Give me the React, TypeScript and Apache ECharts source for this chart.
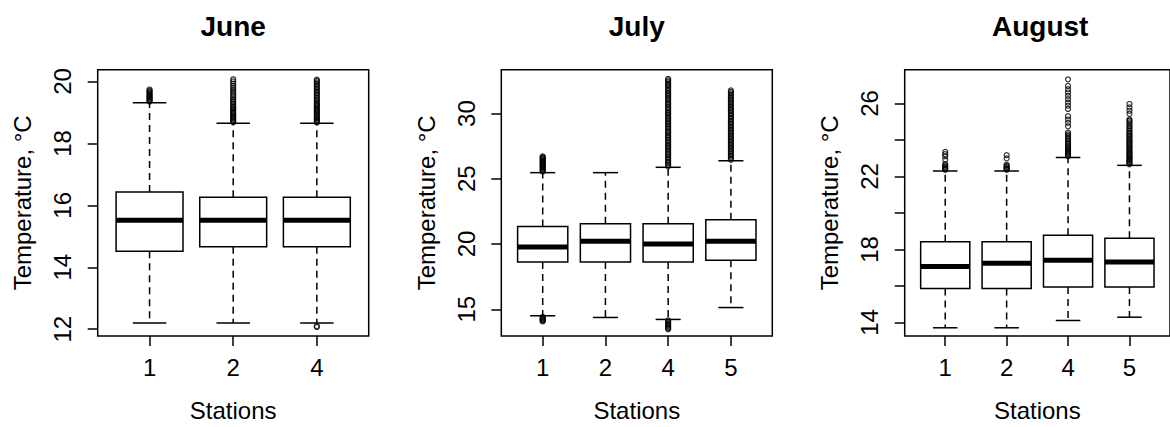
import React, { useEffect, useRef } from "react";
import * as echarts from "echarts";

// ---- data ----
const months = ["June", "July", "August"];

const juneStations = ["1", "2", "4"];
const julyStations = ["1", "2", "4", "5"];
const augustStations = ["1", "2", "4", "5"];

// box statistics per station: [lower whisker, Q1, median, Q3, upper whisker]
const juneBoxes = [
  [12.2, 14.52, 15.52, 16.43, 19.31],
  [12.2, 14.66, 15.52, 16.26, 18.65],
  [12.2, 14.66, 15.52, 16.26, 18.65],
];
const julyBoxes = [
  [14.5, 18.62, 19.78, 21.35, 25.47],
  [14.37, 18.62, 20.21, 21.55, 25.47],
  [14.22, 18.62, 20.0, 21.55, 25.88],
  [15.13, 18.75, 20.21, 21.86, 26.38],
];
const augustBoxes = [
  [13.71, 15.86, 17.07, 18.42, 22.3],
  [13.71, 15.86, 17.25, 18.42, 22.3],
  [14.11, 15.95, 17.41, 18.78, 23.04],
  [14.29, 15.95, 17.32, 18.62, 22.61],
];

// outlying observations per station
const juneOutliers = [
  [19.35, 19.38, 19.41, 19.44, 19.47, 19.5, 19.53, 19.56, 19.6, 19.63, 19.67, 19.7, 19.74],
  [18.68, 18.72, 18.75, 18.79, 18.83, 18.86, 18.9, 18.94, 18.98, 19.02, 19.06, 19.1, 19.14,
    19.18, 19.23, 19.28, 19.33, 19.38, 19.43, 19.49, 19.55, 19.61, 19.67, 19.73, 19.79, 19.86,
    19.93, 20.0, 20.07],
  [12.07, 12.1, 18.67, 18.7, 18.74, 18.77, 18.81, 18.84, 18.88, 18.92, 18.96, 19.0, 19.04,
    19.08, 19.12, 19.16, 19.2, 19.24, 19.28, 19.32, 19.37, 19.42, 19.47, 19.52, 19.57, 19.62,
    19.67, 19.72, 19.77, 19.82, 19.87, 19.92, 19.97, 20.02, 20.06],
];
const julyOutliers = [
  [14.07, 14.12, 14.18, 14.24, 14.3, 14.36, 14.42, 25.55, 25.62, 25.69, 25.76, 25.83, 25.9,
    25.97, 26.04, 26.11, 26.18, 26.25, 26.32, 26.39, 26.46, 26.53, 26.6, 26.66, 26.71],
  [],
  [13.47, 13.54, 13.62, 13.71, 13.8, 13.88, 13.97, 14.06, 14.15, 25.95, 26.06, 26.19, 26.3,
    26.42, 26.55, 26.66, 26.8, 26.91, 27.03, 27.16, 27.27, 27.4, 27.51, 27.63, 27.76, 27.87,
    27.99, 28.12, 28.23, 28.35, 28.48, 28.59, 28.7, 28.84, 28.95, 29.07, 29.2, 29.31, 29.43,
    29.56, 29.67, 29.79, 29.92, 30.03, 30.14, 30.27, 30.39, 30.51, 30.64, 30.75, 30.86, 30.99,
    31.11, 31.22, 31.36, 31.47, 31.58, 31.71, 31.83, 31.95, 32.08, 32.19, 32.3, 32.44, 32.55,
    32.66],
  [26.45, 26.56, 26.68, 26.79, 26.9, 27.03, 27.14, 27.26, 27.37, 27.49, 27.61, 27.72, 27.84,
    27.95, 28.07, 28.19, 28.3, 28.42, 28.53, 28.65, 28.77, 28.88, 29.0, 29.11, 29.23, 29.35,
    29.46, 29.58, 29.69, 29.81, 29.93, 30.04, 30.16, 30.27, 30.39, 30.51, 30.62, 30.74, 30.85,
    30.97, 31.09, 31.2, 31.32, 31.43, 31.55, 31.66, 31.77],
];
const augustOutliers = [
  [22.36, 22.42, 22.47, 22.53, 22.6, 22.68, 22.91, 23.1, 23.22, 23.35],
  [22.36, 22.41, 22.46, 22.52, 22.58, 22.65, 22.99, 23.17],
  [23.1, 23.16, 23.22, 23.28, 23.35, 23.41, 23.48, 23.55, 23.62, 23.7, 23.78, 23.86, 23.95,
    24.04, 24.13, 24.22, 24.31, 24.4, 24.75, 24.94, 25.12, 25.3, 25.7, 25.88, 26.05, 26.24,
    26.42, 26.6, 26.78, 26.96, 27.32],
  [22.67, 22.73, 22.79, 22.85, 22.91, 22.97, 23.04, 23.1, 23.16, 23.23, 23.3, 23.36, 23.43,
    23.5, 23.57, 23.64, 23.71, 23.78, 23.86, 23.93, 24.0, 24.08, 24.16, 24.24, 24.32, 24.4,
    24.49, 24.58, 24.67, 24.76, 24.86, 24.96, 25.05, 25.12, 25.43, 25.6, 25.78, 25.97],
];

// y-axis extents, ticks and labelled values
const juneRange = [11.78, 20.38];
const julyRange = [12.95, 33.36];
const augustRange = [13.26, 27.85];
const juneTicks = [12, 14, 16, 18, 20];
const julyTicks = [15, 20, 25, 30];
const augustTicks = [14, 16, 18, 20, 22, 24, 26];
const juneLabels = [12, 14, 16, 18, 20];
const julyLabels = [15, 20, 25, 30];
const augustLabels = [14, 18, 22, 26];

// ---- layout / style ----
const FONT = "'Liberation Sans', Arial, Helvetica, sans-serif";
const PANEL_LEFT = [97.7, 501.3, 904.7];
const PANEL_W = 271;
const PANEL_TOP = 69.7;
const PANEL_H = 269;
const LW = 1.5;
const FS = 24;

export default function App() {
  const ref = useRef<HTMLDivElement>(null);

  useEffect(() => {
    if (!ref.current) return;
    const chart = echarts.init(ref.current, undefined, { renderer: "svg" });

    const panels = [
      { stations: juneStations, boxes: juneBoxes, outliers: juneOutliers, range: juneRange, ticks: juneTicks, labels: juneLabels },
      { stations: julyStations, boxes: julyBoxes, outliers: julyOutliers, range: julyRange, ticks: julyTicks, labels: julyLabels },
      { stations: augustStations, boxes: augustBoxes, outliers: augustOutliers, range: augustRange, ticks: augustTicks, labels: augustLabels },
    ];

    const grid: any[] = [];
    const xAxis: any[] = [];
    const yAxis: any[] = [];
    const series: any[] = [];
    const graphic: any[] = [];

    panels.forEach((p, i) => {
      const n = p.stations.length;
      grid.push({
        left: PANEL_LEFT[i],
        top: PANEL_TOP,
        width: PANEL_W,
        height: PANEL_H,
        show: true,
        borderColor: "#000",
        borderWidth: LW,
        backgroundColor: "transparent",
      });
      const positions = p.stations.map((_, k) => k + 1);
      const pad = 0.5 + 0.04 * n;
      xAxis.push({
        type: "value",
        gridIndex: i,
        min: 1 - pad,
        max: n + pad,
        name: "Stations",
        nameLocation: "middle",
        nameGap: 62,
        nameTextStyle: { fontFamily: FONT, fontSize: FS, color: "#000" },
        axisLine: { show: false },
        splitLine: { show: false },
        axisTick: {
          show: true,
          length: 10,
          customValues: positions,
          lineStyle: { color: "#000", width: LW },
        },
        axisLabel: {
          customValues: positions,
          margin: 19,
          fontFamily: FONT,
          fontSize: FS,
          color: "#000",
          formatter: (v: number) => p.stations[Math.round(v) - 1] ?? "",
        },
      });
      yAxis.push({
        type: "value",
        gridIndex: i,
        min: p.range[0],
        max: p.range[1],
        name: "Temperature, °C",
        nameLocation: "middle",
        nameRotate: 90,
        nameGap: 63,
        nameTextStyle: { fontFamily: FONT, fontSize: FS, color: "#000" },
        axisLine: { show: false },
        splitLine: { show: false },
        axisTick: {
          show: true,
          length: 10,
          customValues: p.ticks,
          lineStyle: { color: "#000", width: LW },
        },
        axisLabel: {
          customValues: p.labels,
          rotate: 90,
          margin: 23,
          fontFamily: FONT,
          fontSize: FS,
          color: "#000",
        },
      });

      series.push({
        type: "custom",
        xAxisIndex: i,
        yAxisIndex: i,
        encode: { x: 0, y: [1, 2, 3, 4, 5] },
        data: p.boxes.map((b, k) => [k + 1, ...b]),
        renderItem: (_params: any, api: any) => {
          const x = api.value(0);
          const lo = api.coord([x, api.value(1)]);
          const q1 = api.coord([x, api.value(2)]);
          const med = api.coord([x, api.value(3)]);
          const q3 = api.coord([x, api.value(4)]);
          const hi = api.coord([x, api.value(5)]);
          const half = api.size([0.8, 0])[0] / 2;
          const cx = lo[0];
          const stroke = { stroke: "#000", lineWidth: LW };
          const dashed = { stroke: "#000", lineWidth: LW, lineDash: [7, 5] };
          return {
            type: "group",
            children: [
              { type: "line", shape: { x1: cx, y1: q3[1], x2: cx, y2: hi[1] }, style: dashed },
              { type: "line", shape: { x1: cx, y1: q1[1], x2: cx, y2: lo[1] }, style: dashed },
              { type: "line", shape: { x1: cx - half / 2, y1: hi[1], x2: cx + half / 2, y2: hi[1] }, style: stroke },
              { type: "line", shape: { x1: cx - half / 2, y1: lo[1], x2: cx + half / 2, y2: lo[1] }, style: stroke },
              {
                type: "rect",
                shape: { x: cx - half, y: q3[1], width: half * 2, height: q1[1] - q3[1] },
                style: { fill: "#fff", stroke: "#000", lineWidth: LW },
              },
              { type: "line", shape: { x1: cx - half, y1: med[1], x2: cx + half, y2: med[1] }, style: { stroke: "#000", lineWidth: 5 } },
            ],
          };
        },
      });

      const pts: number[][] = [];
      p.outliers.forEach((vals, k) => vals.forEach((v) => pts.push([k + 1, v])));
      series.push({
        type: "scatter",
        xAxisIndex: i,
        yAxisIndex: i,
        data: pts,
        symbol: "circle",
        symbolSize: 5,
        itemStyle: { color: "transparent", borderColor: "#000", borderWidth: 1.2 },
      });

      graphic.push({
        type: "text",
        x: PANEL_LEFT[i] + PANEL_W / 2,
        y: 12,
        style: {
          text: months[i],
          fontFamily: FONT,
          fontSize: 28,
          fontWeight: "bold",
          fill: "#000",
          textAlign: "center",
          textVerticalAlign: "top",
        },
      });
    });

    chart.setOption({
      animation: false,
      backgroundColor: "#fff",
      grid,
      xAxis,
      yAxis,
      series,
      graphic,
    });

    return () => chart.dispose();
  }, []);

  return (
    <div
      ref={ref}
      style={{ position: "fixed", left: 0, top: 0, width: 1170, height: 427 }}
    />
  );
}
